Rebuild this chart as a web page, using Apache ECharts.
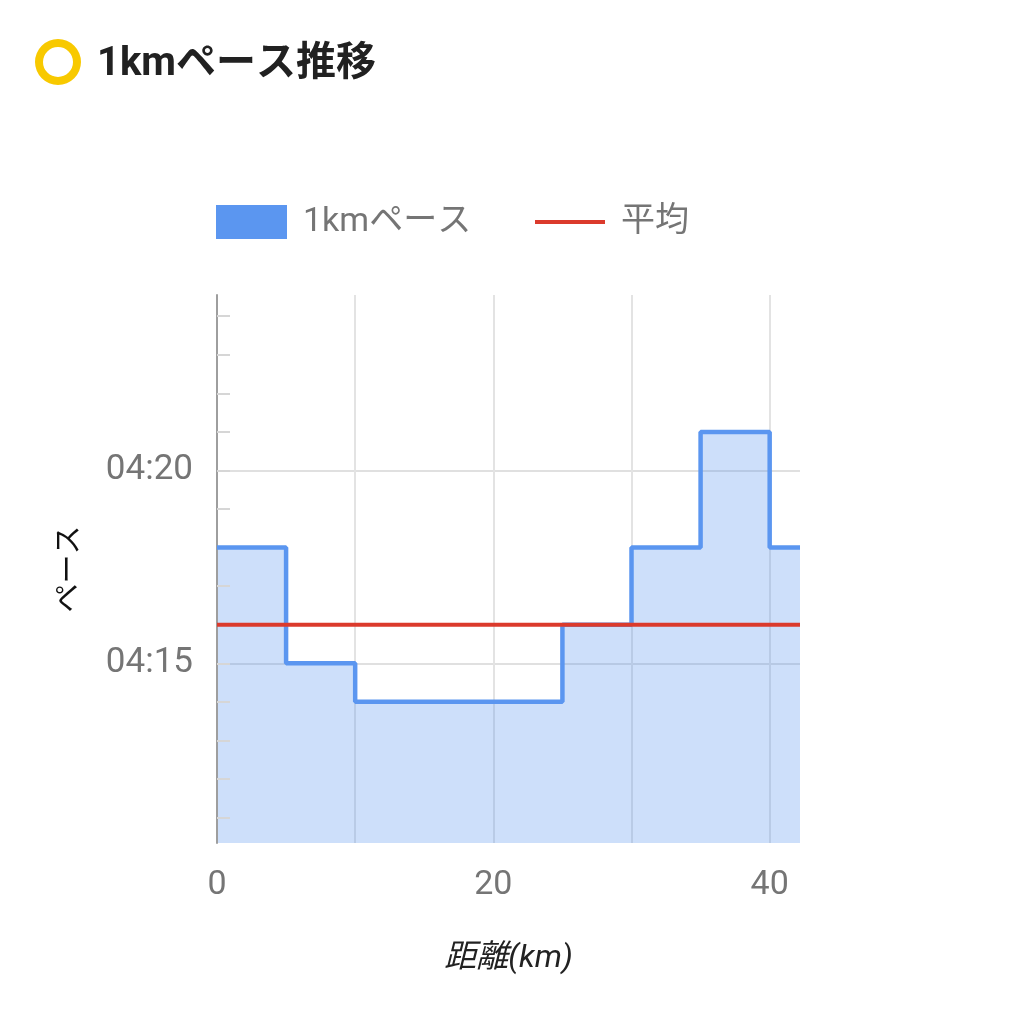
<!DOCTYPE html>
<html><head><meta charset="utf-8">
<script src="https://cdn.jsdelivr.net/npm/echarts@6/dist/echarts.min.js"></script>
<style>html,body{margin:0;padding:0;background:#fff}#c{width:1024px;height:1014px}</style>
</head><body><div id="c"></div>
<script>
const titleText = '1kmペース推移';
const seriesPace = '1kmペース';
const seriesAvg = '平均';
const xName = '距離(km)';
const yName = 'ペース';
const distanceKm = [0, 5, 10, 15, 20, 25, 30, 35, 40, 42.195];
const paceSec = [258, 255, 254, 254, 254, 256, 258, 261, 258, 258];
const avgSec = 256;
const xTicks = [0, 10, 20, 30, 40];
const xLabels = [0, 20, 40];
const yMinorTicks = [251, 252, 253, 254, 255, 256, 257, 258, 259, 260, 261, 262, 263, 264];
const yLabels = [255, 260];
const yMin = 250.34, yMax = 264.55;

function fmt(v){ const m = Math.floor(v/60), s = Math.round(v - m*60); return String(m).padStart(2,'0') + ':' + String(s).padStart(2,'0'); }

const FONT = 'Roboto, "Noto Sans CJK JP", sans-serif';
const chart = echarts.init(document.getElementById('c'));
chart.setOption({
  animation: false,
  textStyle: { fontFamily: FONT },
  title: { text: titleText, left: 97, top: 45, padding: 0, textStyle: { fontSize: 40, fontWeight: 'bold', color: '#212121', fontFamily: FONT } },
  graphic: [{ type: 'ring', shape: { cx: 58, cy: 62, r: 23, r0: 15 }, style: { fill: '#f8c900' } }],
  legend: [
    { data: [{ name: seriesPace, icon: 'rect' }], left: 216, top: 203, padding: 0, itemWidth: 71, itemHeight: 34,
      textStyle: { fontSize: 34, color: '#757575', fontFamily: FONT, lineHeight: 34, padding: [4, 0, 0, 11] } },
    { data: [{ name: seriesAvg, icon: 'rect' }], left: 535, top: 203, padding: 0, itemWidth: 70, itemHeight: 4,
      textStyle: { fontSize: 34, color: '#757575', fontFamily: FONT, lineHeight: 34, padding: [4, 0, 0, 11] } }
  ],
  grid: { left: 217, right: 224, top: 295, bottom: 171 },
  xAxis: {
    type: 'value', min: 0, max: 42.195,
    name: xName, nameLocation: 'middle', nameGap: 100,
    nameTextStyle: { fontSize: 32, fontStyle: 'italic', color: '#222', fontFamily: FONT },
    axisLine: { show: false },
    axisTick: { show: false, customValues: xTicks },
    axisLabel: { customValues: xLabels, fontSize: 34, color: '#757575', margin: 26, fontFamily: FONT },
    splitLine: { show: true, lineStyle: { color: '#e3e3e3', width: 2 } }
  },
  yAxis: [
    { type: 'value', min: yMin, max: yMax,
      name: yName, nameLocation: 'middle', nameGap: 132, nameRotate: 90,
      nameTextStyle: { fontSize: 29, color: '#111', fontFamily: FONT },
      axisLine: { show: true, lineStyle: { color: '#9e9e9e', width: 2 } },
      axisTick: { show: true, inside: true, length: 13, customValues: yMinorTicks, lineStyle: { color: '#d6d6d6', width: 2 } },
      axisLabel: { customValues: yLabels, formatter: fmt, fontSize: 35, color: '#757575', margin: 24, fontFamily: FONT },
      splitLine: { show: false }, z: 3 },
    { type: 'value', min: yMin, max: yMax, position: 'left',
      axisLine: { show: false }, axisTick: { show: false, customValues: yLabels }, axisLabel: { show: false },
      splitLine: { show: true, lineStyle: { color: '#e0e0e0', width: 2 } } }
  ],
  series: [
    { name: seriesPace, type: 'line', step: 'end', yAxisIndex: 0, symbol: 'none',
      data: distanceKm.map((d, i) => [d, paceSec[i]]),
      lineStyle: { color: '#5b96f0', width: 4.5 }, itemStyle: { color: '#5b96f0' },
      areaStyle: { color: '#5b96f0', opacity: 0.3, origin: 'start' } },
    { name: seriesAvg, type: 'line', yAxisIndex: 0, symbol: 'none',
      data: [[distanceKm[0], avgSec], [distanceKm[distanceKm.length-1], avgSec]],
      lineStyle: { color: '#db3a2c', width: 4 }, itemStyle: { color: '#db3a2c' } }
  ]
});
</script></body></html>
